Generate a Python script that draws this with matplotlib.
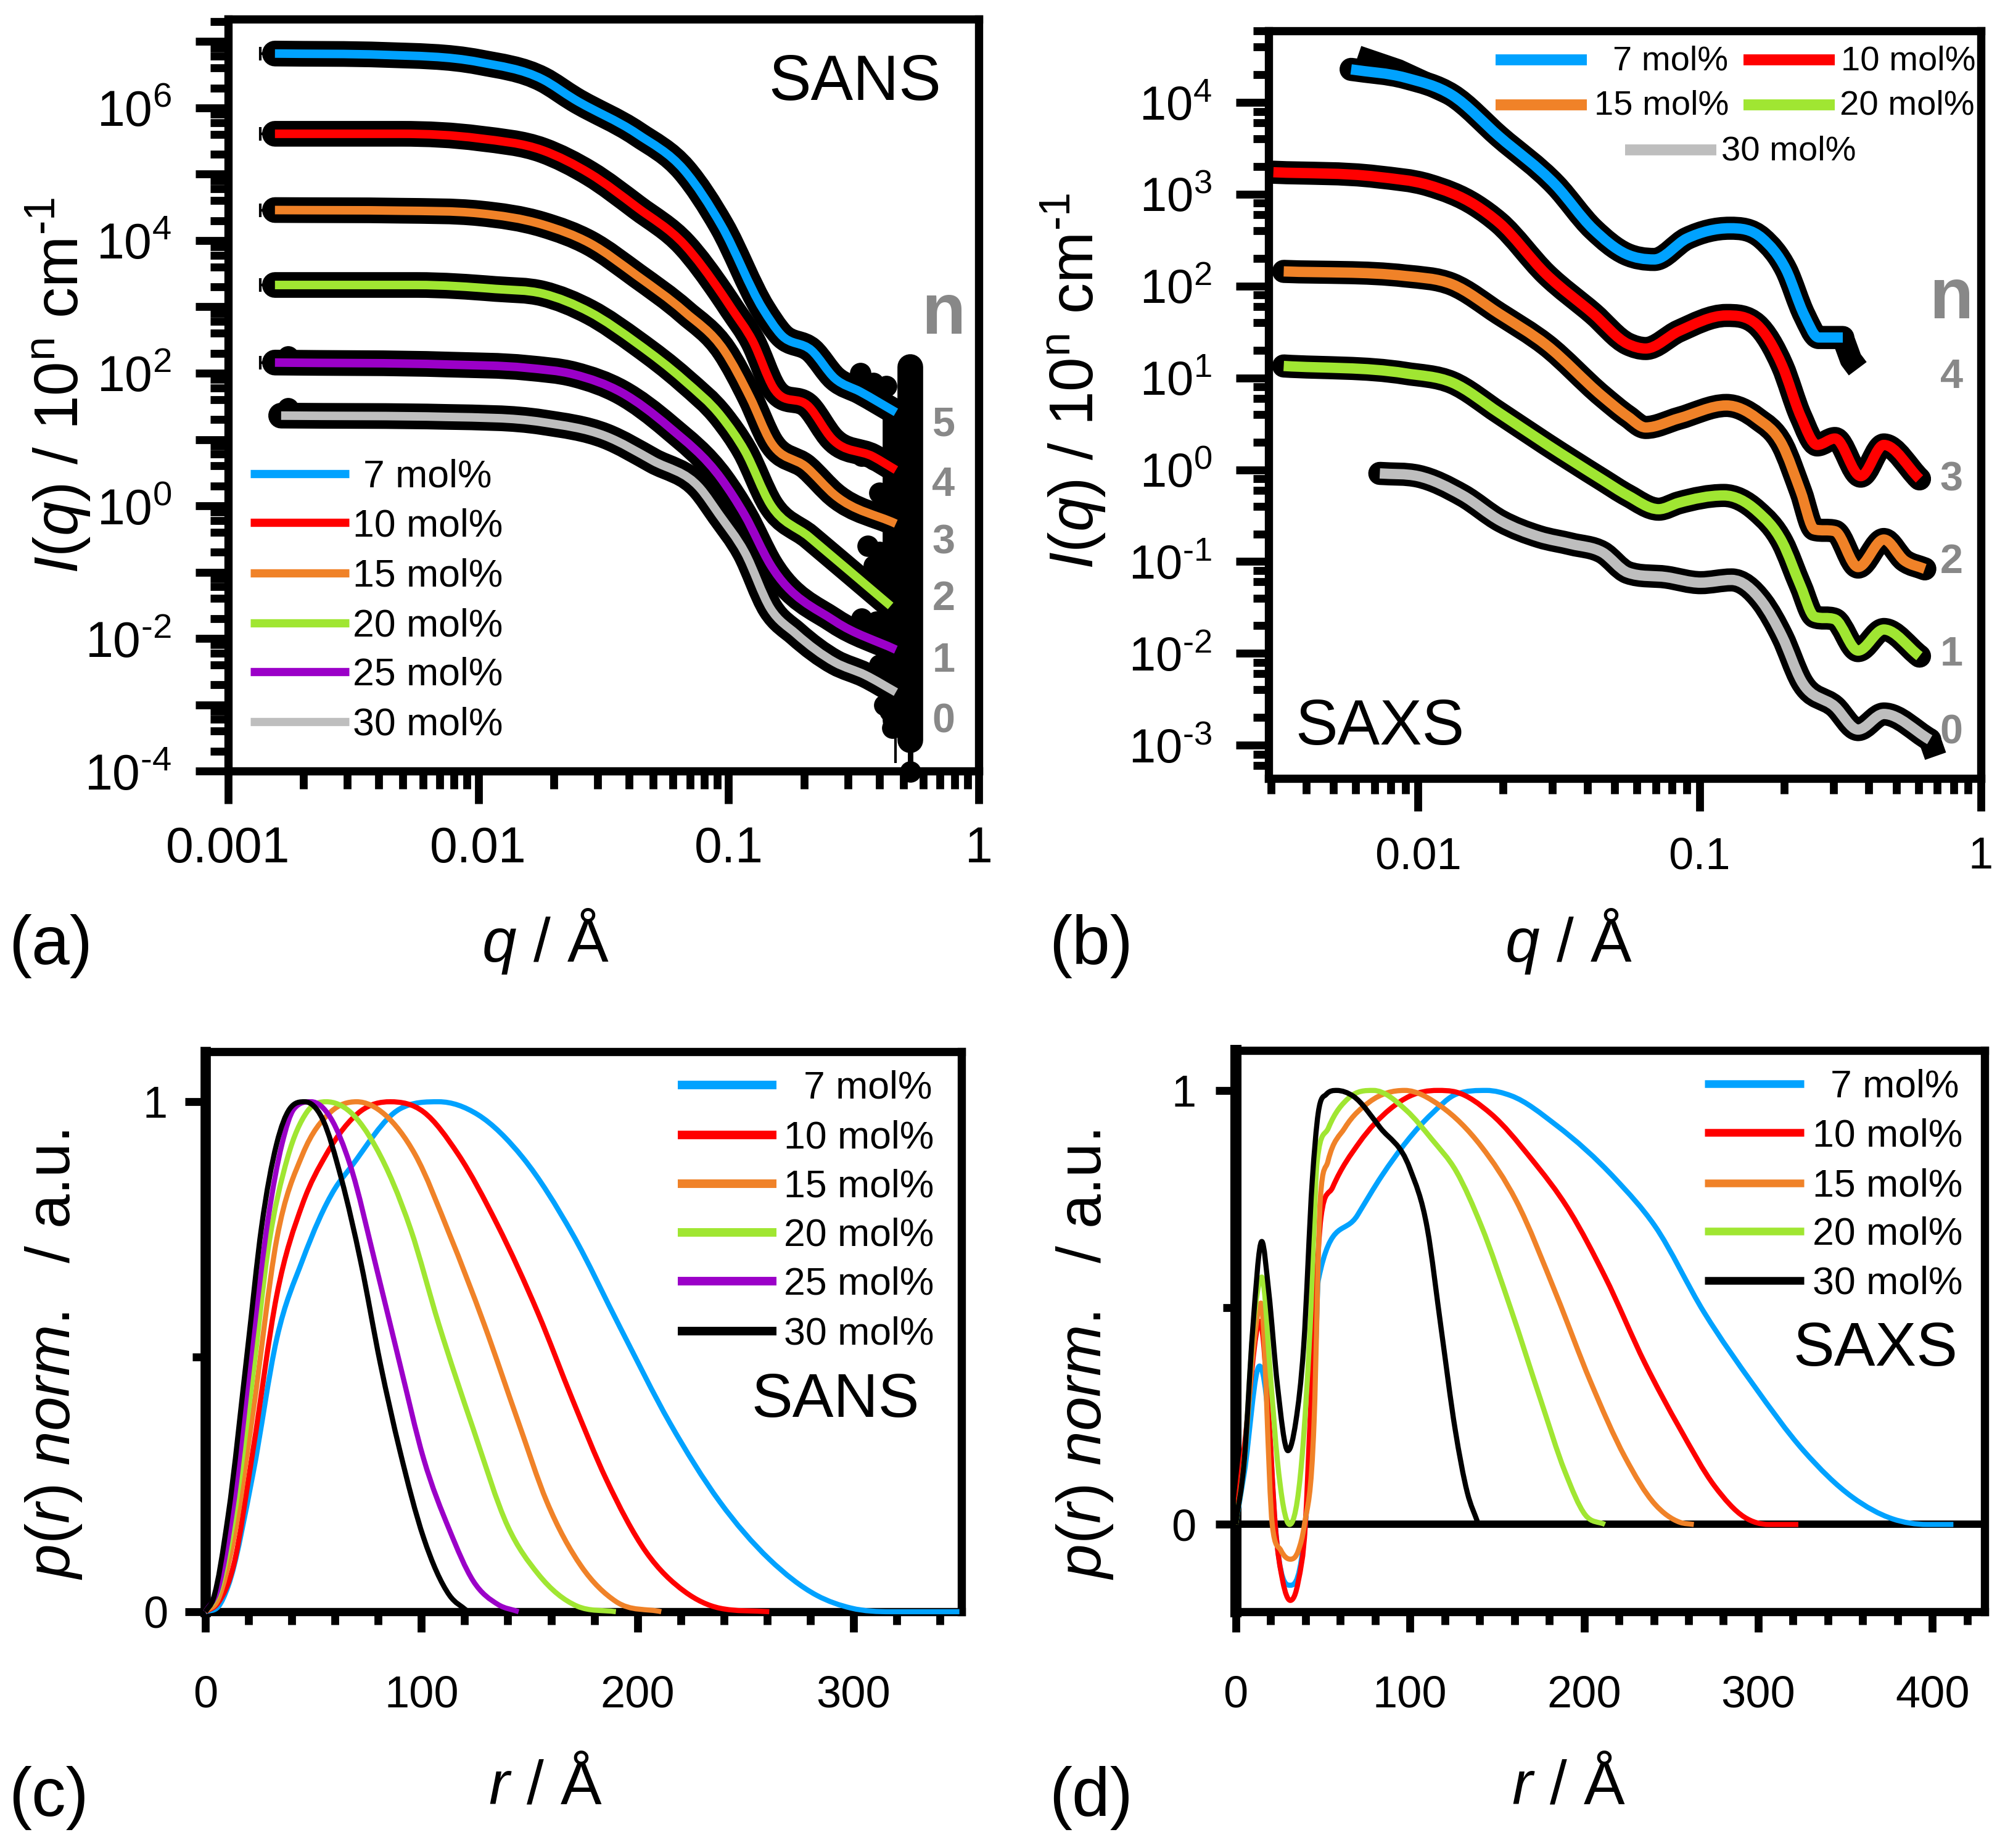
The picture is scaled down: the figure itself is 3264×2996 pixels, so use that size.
#!/usr/bin/env python3

import numpy as np
import matplotlib
matplotlib.use("Agg")
import matplotlib.pyplot as plt
from matplotlib.lines import Line2D
from matplotlib.patches import PathPatch
from matplotlib.path import Path
from matplotlib.ticker import FixedLocator, FuncFormatter, LogLocator, NullFormatter

plt.rcParams['font.family'] = ['Liberation Sans', 'DejaVu Sans']
plt.rcParams['mathtext.fontset'] = 'custom'
plt.rcParams['mathtext.rm'] = 'Liberation Sans'
plt.rcParams['mathtext.it'] = 'Liberation Sans:italic'
plt.rcParams['mathtext.bf'] = 'Liberation Sans:bold'

BLUE = '#00A2FF'
RED = '#FF0000'
ORANGE = '#F08228'
GREEN = '#A0E632'
PURPLE = '#9B00C8'
GRAY = '#BEBEBE'
NGRAY = '#888888'

#-------------------------------------------------------------
# (a) SANS, q in 1/A and log10 I(q)
a_blue_q = [.00154, .00423, .0101, .0181, .0242, .0431, .0665, .0938, .137, .162, .215, .266, .336, .466]
a_blue_i = [6.82, 6.80, 6.69, 6.43, 6.13, 5.61, 5.06, 4.22, 2.97, 2.58, 2.34, 1.92, 1.72, 1.41]
a_red_q = [.00154, .00491, .0101, .0181, .0279, .0431, .0665, .0938, .103, .125, .151, .210, .259, .379, .466]
a_red_i = [5.61, 5.61, 5.54, 5.36, 5.01, 4.50, 3.94, 3.20, 2.97, 2.48, 1.78, 1.49, 1.01, .74, .54]
a_orange_q = [.00154, .00491, .0101, .0181, .0279, .0431, .0665, .0961, .122, .147, .205, .266, .466]
a_orange_i = [4.46, 4.45, 4.41, 4.24, 3.96, 3.47, 2.93, 2.34, 1.63, .97, .58, .16, -.27]
a_green_q = [.00154, .00567, .0117, .0181, .0279, .0431, .0665, .0938, .116, .147, .210, .444]
a_green_i = [3.33, 3.33, 3.27, 3.20, 2.92, 2.45, 1.89, 1.34, .83, .02, -.47, -1.51]
a_purple_q = [.00154, .00758, .0156, .0242, .0373, .0577, .0938, .116, .147, .266, .466]
a_purple_i = [2.16, 2.13, 2.08, 1.98, 1.71, 1.19, .40, -.14, -.89, -1.74, -2.17]
a_gray_q = [.00163, .00758, .0181, .0323, .0499, .0771, .0916, .116, .147, .186, .266, .351, .466]
a_gray_i = [1.36, 1.34, 1.26, 1.05, .68, .26, -.13, -.70, -1.55, -1.93, -2.36, -2.55, -2.81]

# scattered high q data points, by column, and the first points of the last two series
a_col1_i = [2.09, 1.71, 1.32, .93, .54, .16, -.23, -.62, -1.0, -1.39, -1.78, -2.17, -2.55, -2.94, -3.33, -3.53]
a_col2_i = [1.41, 1.03, .64, .25, -.14, -.52, -.91, -1.3, -1.69, -2.07, -2.46, -2.85, -3.24]
a_scatter_q = [.336, .379, .426, .34, .38, .40, .43, .36, .40, .42, .38, .34, .39, .42, .40, .43, .42, .44, .45,
               .00174, .00174, .533]
a_scatter_i = [2.0, 1.85, 1.8, .75, .7, .2, .1, -.6, -.7, -1.05, -.9, -1.7, -1.75, -1.9, -2.4, -2.4, -3.0, -3.1, -3.35,
               2.25, 1.47, -4.01]
a_errbar_q = [.463, .533]
a_errbar_lo = [-3.88, -4.0]
a_errbar_hi = [-3.0, -3.2]
a_xerr_q = .0014
a_xerr_dq = .000056
a_xerr_i = [6.82, 5.61, 4.46, 3.33, 2.16]

#-------------------------------------------------------------
# (b) SAXS, q in 1/A and log10 I(q)
b_blue_q = [.00578, .00901, .0132, .0194, .0308, .0419, .0548, .0690, .0904, .128, .167, .203, .236, .265, .323]
b_blue_i = [4.36, 4.27, 4.08, 3.63, 3.10, 2.62, 2.35, 2.29, 2.52, 2.63, 2.52, 2.18, 1.68, 1.44, 1.44]
b_red_q = [.00306, .00716, .0109, .016, .0194, .0285, .0419, .0556, .0644, .0845, .1246, .160, .197, .229, .262, .303, .374, .452, .605]
b_red_i = [3.24, 3.19, 3.10, 2.88, 2.69, 2.13, 1.70, 1.37, 1.32, 1.51, 1.68, 1.58, 1.13, .58, .27, .34, -.07, .27, -.10]
b_orange_q = [.00333, .00901, .0132, .0194, .0285, .0452, .0556, .0644, .0845, .1246, .160, .197, .229, .256, .303, .366, .452, .535, .632]
b_orange_i = [2.16, 2.11, 2.02, 1.70, 1.36, .80, .58, .46, .56, .70, .56, .27, -.24, -.65, -.67, -1.06, -.76, -.99, -1.08]
b_green_q = [.00333, .00901, .0132, .0194, .0285, .0452, .0556, .0716, .0845, .122, .160, .197, .229, .256, .303, .366, .452, .605]
b_green_i = [1.13, 1.05, .95, .62, .28, -.11, -.28, -.43, -.36, -.28, -.45, -.79, -1.27, -1.60, -1.63, -1.97, -1.74, -2.03]
b_gray_q = [.00731, .01, .0144, .0197, .027, .0351, .0452, .0556, .0762, .101, .130, .167, .197, .230, .303, .366, .452, .658]
b_gray_i = [-.04, -.07, -.28, -.56, -.73, -.81, -.90, -1.12, -1.17, -1.23, -1.20, -1.44, -1.82, -2.30, -2.58, -2.83, -2.66, -2.94]

# data running past the fits
b_start_q = [.0061, .0085, .0132]
b_start_i = [4.50, 4.35, 4.08]
b_end_q = [.323, .345, .365]
b_end_i = [1.44, 1.2, 1.1]
b_tail_q = [.658, .69]
b_tail_i = [-2.94, -3.12]

#-------------------------------------------------------------
# (c) SANS p(r)
c_blue_r = [0, 6, 10.5, 22, 33, 45, 60, 67, 90, 108, 126, 147, 170, 192, 215, 238, 261, 283, 299, 317, 349]
c_blue_p = [0, .01, .05, .27, .535, .69, .83, .87, .986, 1, .975, .89, .74, .557, .37, .216, .103, .032, .007, 0, 0]
c_red_r = [0, 6, 13, 22, 33, 45, 56, 72, 85.5, 101, 117, 135, 154, 170, 185.5, 204, 222, 238, 261]
c_red_p = [0, .018, .09, .316, .62, .80, .897, .982, 1, .98, .897, .76, .585, .415, .26, .117, .039, .007, 0]
c_orange_r = [0, 6, 13, 22, 33, 45, 58, 70, 83, 97, 113, 129, 145, 158, 174, 190, 211]
c_orange_p = [0, .025, .14, .39, .73, .897, .98, 1, .975, .897, .74, .564, .37, .216, .089, .02, 0]
c_green_r = [0, 6, 13, 22, 29, 38, 47, 56, 67, 79, 95, 108, 124, 140, 154, 172, 190]
c_green_p = [0, .04, .18, .465, .71, .89, .98, 1, .98, .91, .75, .564, .358, .167, .074, .011, 0]
c_purple_r = [0, 6, 13, 22, 29, 35.5, 41, 49, 58, 67, 79, 90, 101, 113, 124, 135.5, 145]
c_purple_p = [0, .046, .21, .535, .77, .918, .986, 1, .968, .876, .677, .486, .30, .16, .06, .014, 0]
c_black_r = [0, 3.6, 10.5, 19.5, 26, 33, 39, 46, 54, 63, 72, 81, 90, 101, 113, 121]
c_black_p = [0, .025, .188, .514, .755, .918, .986, 1, .968, .848, .684, .486, .316, .145, .032, .002]

#-------------------------------------------------------------
# (d) SAXS p(r)
d_blue_r = [0, 5, 13.7, 19, 22.7, 31.4, 40, 42.7, 46, 47.4, 70, 84, 112.5, 127, 144, 158, 184, 218, 240.6, 269, 297.5, 326, 354, 377, 397, 412]
d_blue_p = [0, .12, .365, .236, 0, -.14, 0, .15, .41, .562, .713, .804, .946, .992, 1, .988, .92, .796, .688, .488, .32, .17, .063, .013, 0, 0]
d_red_r = [0, 5, 14, 19.2, 22.7, 27, 31.4, 36, 40, 42.7, 49, 55.7, 71, 88.6, 100, 115.7, 126.7, 146.6, 169, 192, 212, 235, 255, 275, 292, 306, 323]
d_red_p = [0, .18, .468, .236, 0, -.13, -.175, -.13, 0, .236, .708, .777, .88, .957, .987, 1, .996, .946, .846, .72, .571, .371, .221, .088, .017, 0, 0]
d_orange_r = [0, 5, 10, 14.5, 21, 26, 31.4, 36, 39.5, 45, 48.6, 53, 62.7, 77, 97, 118, 141, 161, 184, 203.6, 223.5, 240.6, 255, 263]
d_orange_p = [0, .15, .40, .51, 0, -.06, -.08, -.06, 0, .236, .75, .837, .914, .974, 1, .963, .871, .746, .53, .33, .155, .047, .005, 0]
d_green_r = [0, 5, 10, 15, 20.4, 23.9, 31, 38, 42.7, 46.8, 53.3, 65, 79, 98, 112.5, 126.7, 141, 158, 175, 189, 200.7, 212]
d_green_p = [0, .15, .45, .57, .32, .15, 0, .15, .45, .837, .914, .983, 1, .954, .888, .813, .688, .496, .288, .122, .022, 0]
d_black_r = [0, 5, 9.8, 15, 19, 24, 30, 34.5, 39, 44, 47.4, 52, 58, 67.4, 83, 100, 110, 118, 126, 133, 139]
d_black_p = [0, .15, .45, .652, .536, .32, .17, .236, .408, .794, .948, .991, 1, .987, .914, .82, .682, .45, .219, .073, .004]

mol_labels = ['7 mol%', '10 mol%', '15 mol%', '20 mol%', '25 mol%', '30 mol%']

#-------------------------------------------------------------
# layout below is given in pixels of a 1568 wide view of the page
VIEW_W = 1568.0
VIEW_H = 1439.0

def fx(x):
    return x / VIEW_W

def fy(y):
    return 1.0 - y / VIEW_H

def makeAxes(fig, left, right, top, bottom):
    return fig.add_axes([fx(left), fy(bottom), (right - left) / VIEW_W, (bottom - top) / VIEW_H])

def styleAxes(ax, lw, majorLen, minorLen, tickW):
    for s in ax.spines.values():
        s.set_linewidth(lw)
    ax.tick_params(which='major', direction='out', length=majorLen, width=tickW)
    ax.tick_params(which='minor', direction='out', length=minorLen, width=tickW)

def legendEntry(fig, x0, x1, y, lw, color, tx, label, size, dy=2.5):
    fig.add_artist(Line2D([fx(x0), fx(x1)], [fy(y), fy(y)], color=color, lw=lw,
                          solid_capstyle='butt', transform=fig.transFigure))
    fig.text(fx(tx), fy(y + dy), label, ha='left', va='center', fontsize=size)

def powerLabel(v):
    e = int(round(np.log10(v)))
    if e < 0:
        return r'$\mathregular{10^{\text{-}%d}}$' % -e
    return r'$\mathregular{10^{%d}}$' % e

def logAxes(ax, labelEvery, lo, hi, ysize, xsize, xpad, ypad):
    ax.set_xscale('log')
    ax.set_yscale('log')
    ax.xaxis.set_major_locator(FixedLocator([0.001, 0.01, 0.1, 1]))
    ax.xaxis.set_major_formatter(FuncFormatter(lambda v, p: '%g' % v))
    ax.xaxis.set_minor_locator(LogLocator(base=10, subs=np.arange(2, 10), numticks=20))
    ax.xaxis.set_minor_formatter(NullFormatter())
    ax.yaxis.set_major_locator(FixedLocator([10.0 ** e for e in range(lo, hi + 1)]))
    ax.yaxis.set_major_formatter(FuncFormatter(
        lambda v, p: powerLabel(v) if round(np.log10(v)) % labelEvery == 0 else ''))
    ax.yaxis.set_minor_locator(LogLocator(base=10, subs=[2, 4, 6, 8], numticks=30))
    ax.yaxis.set_minor_formatter(NullFormatter())
    ax.tick_params(axis='y', which='major', labelsize=ysize, pad=ypad)
    ax.tick_params(axis='x', which='major', labelsize=xsize, pad=xpad)

#-------------------------------------------------------------
def curveSlopes(x, y):
    """ Slopes at the read points for a curve that does not overshoot them:
    flat at a maximum or minimum, a weighted mean of both sides elsewhere.
    """
    h = np.diff(x)
    d = np.diff(y) / h
    m = np.zeros(len(x))
    m[0] = d[0]
    m[-1] = d[-1]
    for k in range(1, len(x) - 1):
        if d[k - 1] * d[k] > 0:
            m[k] = (h[k] * d[k - 1] + h[k - 1] * d[k]) / (h[k - 1] + h[k])
            limit = 3.0 * min(abs(d[k - 1]), abs(d[k]))
            m[k] = np.sign(m[k]) * min(abs(m[k]), limit)
    return m

def smoothLine(ax, x, y, color, lw, logScale=False, cap='butt', clip=True, zorder=3):
    """ Draw the read points joined by bezier segments (like a spline
    connection of the plotting program), through the axes' own scales.

    :param: x, positions (q or r)
    :param: y, log10 I when logScale is set, p(r) otherwise
    """
    x = np.log10(x) if logScale else np.asarray(x, dtype=float)
    y = np.asarray(y, dtype=float)
    m = curveSlopes(x, y)
    verts = [(x[0], y[0])]
    codes = [Path.MOVETO]
    for k in range(len(x) - 1):
        h = (x[k + 1] - x[k]) / 3.0
        verts += [(x[k] + h, y[k] + m[k] * h), (x[k + 1] - h, y[k + 1] - m[k + 1] * h), (x[k + 1], y[k + 1])]
        codes += [Path.CURVE4] * 3
    verts = np.array(verts)
    if logScale:
        verts = np.power(10.0, verts)
    ax.add_patch(PathPatch(Path(verts, codes), fill=False, edgecolor=color, lw=lw, capstyle=cap,
                           joinstyle='round', clip_on=clip, zorder=zorder))

#-------------------------------------------------------------
def main():
    fig = plt.figure(figsize=(16.32, 14.98), dpi=200)
    ylabelLog = r'$\mathit{I(q)}$ / 10$^{\mathrm{n}}$ cm$^{\text{-}1}$'
    ylabelPr = r'$\mathit{p(r)\ norm.}$  / a.u.'

    # (a)
    ax = makeAxes(fig, 177.6, 762.5, 15, 600.4)
    styleAxes(ax, 4.8, 19, 10.5, 4.6)
    logAxes(ax, 2, -4, 7, 29, 29, 13, 14)
    ax.set_xlim(0.001, 1)
    ax.set_ylim(1e-4, 10 ** 7.337)
    series = [(a_gray_q, a_gray_i, GRAY), (a_purple_q, a_purple_i, PURPLE), (a_green_q, a_green_i, GREEN),
              (a_orange_q, a_orange_i, ORANGE), (a_red_q, a_red_i, RED), (a_blue_q, a_blue_i, BLUE)]
    for q, i, c in series:
        smoothLine(ax, q, i, 'k', 15, logScale=True, cap='round')
    # the high q points pile up to one solid column
    ax.plot([.533] * len(a_col1_i), np.power(10.0, a_col1_i), color='k', lw=15, solid_capstyle='round',
            clip_on=False, zorder=3)
    ax.plot([.463] * len(a_col2_i), np.power(10.0, a_col2_i), color='k', lw=15, solid_capstyle='round',
            clip_on=False, zorder=3)
    ax.plot(a_scatter_q, np.power(10.0, a_scatter_i), 'o', color='k', ms=12.5, mew=0, clip_on=False, zorder=3)
    ax.vlines(a_errbar_q, np.power(10.0, a_errbar_lo), np.power(10.0, a_errbar_hi),
              colors='k', lw=[1.5, 3.2], zorder=3)
    ax.errorbar([a_xerr_q] * 5, np.power(10.0, a_xerr_i), xerr=a_xerr_dq, fmt='none', ecolor='k',
                elinewidth=1.5, capsize=4, capthick=1.5, zorder=3)
    for q, i, c in series:
        smoothLine(ax, q, i, c, 5, logScale=True, zorder=4)
    ax.set_xlabel(r'$\mathit{q}$ / Å', fontsize=36)
    ax.xaxis.set_label_coords(fx(425), fy(733), transform=fig.transFigure)
    ax.xaxis.label.set_va('center')
    ax.set_ylabel(ylabelLog, fontsize=36, va='center', ha='center')
    ax.yaxis.set_label_coords(fx(45), fy(300), transform=fig.transFigure)

    aColors = [BLUE, RED, ORANGE, GREEN, PURPLE, GRAY]
    aY = [369, 407, 446, 485, 523, 562]
    aTx = [283, 275, 275, 275, 275, 275]
    for c, y, t, l in zip(aColors, aY, aTx, mol_labels):
        legendEntry(fig, 195, 272, y, 4.8, c, t, l, 22.5)
    fig.text(fx(666), fy(65), 'SANS', ha='center', va='center', fontsize=37)
    fig.text(fx(735), fy(245), 'n', ha='center', va='center', fontsize=42, fontweight='bold', color=NGRAY)
    for n, y in zip([5, 4, 3, 2, 1, 0], [331, 378, 423, 467, 515, 562]):
        fig.text(fx(735), fy(y), str(n), ha='center', va='center', fontsize=24, fontweight='bold', color=NGRAY)
    fig.text(fx(7), fy(737), '(a)', ha='left', va='center', fontsize=40)

    # (b)
    ax = makeAxes(fig, 988, 1543, 24, 606)
    styleAxes(ax, 4.8, 19, 9, 4.6)
    logAxes(ax, 1, -3, 4, 28, 26, 15, 14)
    ax.set_xlim(10 ** -2.532, 1)
    ax.set_ylim(10 ** -3.36, 10 ** 4.78)
    series = [(b_gray_q, b_gray_i, GRAY), (b_green_q, b_green_i, GREEN), (b_orange_q, b_orange_i, ORANGE),
              (b_red_q, b_red_i, RED), (b_blue_q, b_blue_i, BLUE)]
    for q, i in [(b_start_q, b_start_i), (b_end_q, b_end_i), (b_tail_q, b_tail_i)]:
        ax.plot(q, np.power(10.0, i), color='k', lw=13, solid_capstyle='butt', zorder=3)
    for q, i, c in series:
        smoothLine(ax, q, i, 'k', 13.5, logScale=True, cap='round')
    for q, i, c in series:
        smoothLine(ax, q, i, c, 6, logScale=True, zorder=4)
    ax.set_xlabel(r'$\mathit{q}$ / Å', fontsize=36)
    ax.xaxis.set_label_coords(fx(1222), fy(733), transform=fig.transFigure)
    ax.xaxis.label.set_va('center')
    ax.set_ylabel(ylabelLog, fontsize=36, va='center', ha='center')
    ax.yaxis.set_label_coords(fx(836), fy(297), transform=fig.transFigure)

    legendEntry(fig, 1165, 1236, 46.7, 6.4, BLUE, 1256, mol_labels[0], 20.2, 1)
    legendEntry(fig, 1358, 1429, 46.7, 6.4, RED, 1434, mol_labels[1], 20.2, 1)
    legendEntry(fig, 1165, 1236, 81.5, 6.4, ORANGE, 1242, mol_labels[2], 20.2, 1)
    legendEntry(fig, 1358, 1429, 81.5, 6.4, GREEN, 1433, mol_labels[3], 20.2, 1)
    legendEntry(fig, 1266, 1337, 116.7, 6.4, GRAY, 1341, mol_labels[5], 20.2, 1)
    fig.text(fx(1075), fy(567), 'SAXS', ha='center', va='center', fontsize=37)
    fig.text(fx(1520), fy(233), 'n', ha='center', va='center', fontsize=42, fontweight='bold', color=NGRAY)
    for n, y in zip([4, 3, 2, 1, 0], [294, 374, 438, 510, 571]):
        fig.text(fx(1520), fy(y), str(n), ha='center', va='center', fontsize=24, fontweight='bold', color=NGRAY)
    fig.text(fx(817), fy(737), '(b)', ha='left', va='center', fontsize=40)

    # (c)
    ax = makeAxes(fig, 160, 749, 819, 1255)
    styleAxes(ax, 4.8, 12, 7.5, 4.6)
    ax.spines['left'].set_linewidth(6)
    ax.set_xlim(0, 350)
    ax.set_ylim(0, 1.098)
    ax.xaxis.set_major_locator(FixedLocator([0, 100, 200, 300]))
    ax.xaxis.set_minor_locator(FixedLocator(np.arange(0, 351, 20)))
    ax.yaxis.set_major_locator(FixedLocator([0, 1]))
    ax.yaxis.set_minor_locator(FixedLocator([0.5]))
    ax.tick_params(axis='x', which='major', labelsize=26, pad=25)
    ax.tick_params(axis='y', which='major', labelsize=26, pad=10)
    for r, p, c in [(c_blue_r, c_blue_p, BLUE), (c_red_r, c_red_p, RED), (c_orange_r, c_orange_p, ORANGE),
                    (c_green_r, c_green_p, GREEN), (c_purple_r, c_purple_p, PURPLE), (c_black_r, c_black_p, 'k')]:
        smoothLine(ax, r, p, c, 3, clip=False)
    ax.set_xlabel(r'$\mathit{r}$ / Å', fontsize=36)
    ax.xaxis.set_label_coords(fx(425), fy(1392), transform=fig.transFigure)
    ax.xaxis.label.set_va('center')
    ax.set_ylabel(ylabelPr, fontsize=36, va='center', ha='center')
    ax.yaxis.set_label_coords(fx(42), fy(1055), transform=fig.transFigure)

    cColors = [BLUE, RED, ORANGE, GREEN, PURPLE, 'k']
    cY = [844.7, 883.6, 921.5, 959.6, 997.6, 1036.5]
    cTx = [626, 610.5, 610.5, 610.5, 610.5, 610.5]
    for c, y, t, l in zip(cColors, cY, cTx, mol_labels):
        legendEntry(fig, 528, 605, y, 5, c, t, l, 22.5)
    fig.text(fx(651), fy(1091), 'SANS', ha='center', va='center', fontsize=36)
    fig.text(fx(7), fy(1400), '(c)', ha='left', va='center', fontsize=40)

    # (d)
    ax = makeAxes(fig, 962.5, 1546, 818, 1255)
    styleAxes(ax, 4.8, 12, 7.5, 4.6)
    ax.spines['left'].set_linewidth(6.5)
    ax.set_xlim(0, 430)
    ax.set_ylim(-0.201, 1.092)
    ax.axhline(0, color='k', lw=4.3, zorder=1.5)
    ax.xaxis.set_major_locator(FixedLocator([0, 100, 200, 300, 400]))
    ax.xaxis.set_minor_locator(FixedLocator(np.arange(0, 431, 20)))
    ax.yaxis.set_major_locator(FixedLocator([0, 1]))
    ax.yaxis.set_minor_locator(FixedLocator([0.5]))
    ax.tick_params(axis='x', which='major', labelsize=26, pad=25)
    ax.tick_params(axis='y', which='major', labelsize=26, pad=11)
    for r, p, c in [(d_blue_r, d_blue_p, BLUE), (d_red_r, d_red_p, RED), (d_orange_r, d_orange_p, ORANGE),
                    (d_green_r, d_green_p, GREEN), (d_black_r, d_black_p, 'k')]:
        smoothLine(ax, r, p, c, 3)
    ax.set_xlabel(r'$\mathit{r}$ / Å', fontsize=36)
    ax.xaxis.set_label_coords(fx(1222), fy(1392), transform=fig.transFigure)
    ax.xaxis.label.set_va('center')
    ax.set_ylabel(ylabelPr, fontsize=36, va='center', ha='center')
    ax.yaxis.set_label_coords(fx(845), fy(1055), transform=fig.transFigure)

    dLabels = [mol_labels[0], mol_labels[1], mol_labels[2], mol_labels[3], mol_labels[5]]
    dColors = [BLUE, RED, ORANGE, GREEN, 'k']
    dY = [844, 882, 921, 958.7, 997]
    dTx = [1426, 1412, 1412, 1412, 1412]
    for c, y, t, l in zip(dColors, dY, dTx, dLabels):
        legendEntry(fig, 1328, 1405, y, 4.5, c, t, l, 22.5)
    fig.text(fx(1461), fy(1051), 'SAXS', ha='center', va='center', fontsize=36)
    fig.text(fx(817), fy(1400), '(d)', ha='left', va='center', fontsize=40)

    fig.savefig('out.png', dpi=200)
    plt.close(fig)

#-------------------------------------------------------------
if __name__ == "__main__":
    main()
